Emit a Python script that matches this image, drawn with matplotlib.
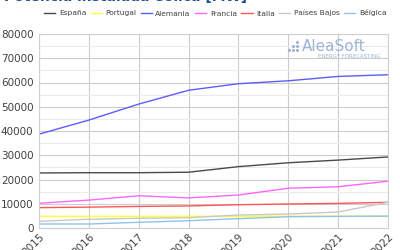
import matplotlib.pyplot as plt
from matplotlib.lines import Line2D
from matplotlib.ticker import MultipleLocator

years = ["2015", "2016", "2017", "2018", "2019", "2020", "2021", "2022"]

espana = [22700, 22800, 22800, 23000, 25300, 26900, 28000, 29300]
portugal = [4800, 4800, 4800, 4800, 4800, 4850, 4850, 4900]
alemania = [38700, 44500, 51100, 56800, 59500, 60700, 62500, 63200]
francia = [10200, 11500, 13300, 12400, 13600, 16400, 17000, 19300]
italia = [8400, 8600, 8900, 9100, 9600, 9900, 10150, 10600]
paises_bajos = [2750, 3600, 4000, 4250, 5350, 5750, 6600, 10600]
belgica = [1650, 1650, 2350, 3000, 3850, 4650, 4800, 4900]

series = [
    ("España", espana, "#4a4a4a"),
    ("Portugal", portugal, "#ffff33"),
    ("Alemania", alemania, "#5c5cff"),
    ("Francia", francia, "#ff66ff"),
    ("Italia", italia, "#ff5555"),
    ("Países Bajos", paises_bajos, "#c8c8c8"),
    ("Bélgica", belgica, "#8fc3ea"),
]

fig = plt.figure(figsize=(4, 2.5), dpi=100)
ax = fig.add_axes([0.0975, 0.088, 0.8725, 0.776])

x = list(range(len(years)))
for name, vals, color in series:
    ax.plot(x, vals, color=color, lw=1.0, label=name)

ax.set_xlim(0, len(years) - 1)
ax.set_ylim(0, 80000)
ax.yaxis.set_major_locator(MultipleLocator(10000))
ax.yaxis.set_minor_locator(MultipleLocator(5000))
ax.set_xticks(x)
ax.set_xticklabels(years, rotation=45, ha="right", va="top", fontsize=7.5,
                   color="#404040", rotation_mode="anchor")
ax.tick_params(axis="y", labelsize=7.5, labelcolor="#404040", length=0, pad=4)
ax.tick_params(axis="x", length=0, pad=3)
ax.tick_params(which="minor", length=0)

ax.grid(True, which="major", color="#cccccc", lw=0.8)
ax.grid(True, which="minor", axis="y", color="#ebebeb", lw=0.8)
ax.set_axisbelow(True)
for sp in ax.spines.values():
    sp.set_color("#d0d0d0")
    sp.set_linewidth(0.8)

leg = fig.legend(loc="center", bbox_to_anchor=(0.538, 0.948), ncol=7,
                 frameon=False, fontsize=5.4, handlelength=1.5,
                 handletextpad=0.45, columnspacing=0.6, borderpad=0)
for t in leg.get_texts():
    t.set_color("#404040")

# title, partly cut by the top edge
fig.text(0.01, 0.985, "Potencia instalada eólica [MW]", fontsize=10,
         fontweight="bold", color="#1f4e9c", ha="left", va="bottom")

# watermark
wm = "#9fb3d6"
fig.text(0.755, 0.795, "AleaSoft", fontsize=11, color=wm,
         ha="left", va="baseline")
fig.text(0.795, 0.768, "ENERGY FORECASTING", fontsize=4, color=wm,
         ha="left", va="baseline")
dots_x = [0.7225, 0.7325, 0.7325, 0.7425, 0.7425, 0.7425]
dots_y = [0.80, 0.80, 0.816, 0.80, 0.816, 0.832]
fig.add_artist(Line2D(dots_x, dots_y, transform=fig.transFigure, ls="none",
                      marker="o", ms=2.2, color=wm, mec="none"))

fig.savefig("out.png", dpi=100)
